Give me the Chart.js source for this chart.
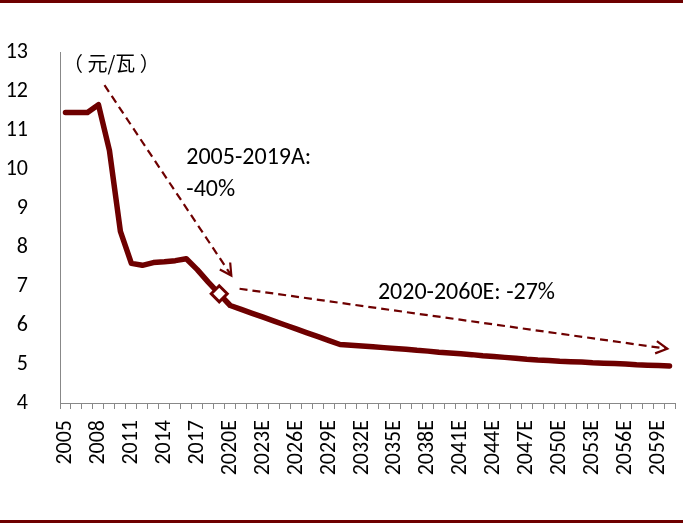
<!DOCTYPE html>
<html>
<head>
<meta charset="utf-8">
<script src="https://cdn.jsdelivr.net/npm/chart.js@4"></script>
<style>
  html, body { margin: 0; padding: 0; background: #fff; }
</style>
</head>
<body>
<canvas id="priceChart" width="683" height="523"></canvas>
<script>
// ---------------- DATA ----------------
const YEARS = [
  '2005', '2006', '2007', '2008', '2009', '2010', '2011', '2012', '2013', '2014',
  '2015', '2016', '2017', '2018', '2019',
  '2020E', '2021E', '2022E', '2023E', '2024E', '2025E', '2026E', '2027E', '2028E', '2029E',
  '2030E', '2031E', '2032E', '2033E', '2034E', '2035E', '2036E', '2037E', '2038E', '2039E',
  '2040E', '2041E', '2042E', '2043E', '2044E', '2045E', '2046E', '2047E', '2048E', '2049E',
  '2050E', '2051E', '2052E', '2053E', '2054E', '2055E', '2056E', '2057E', '2058E', '2059E',
  '2060E'
];

// 元/瓦
const PRICE = [
  11.45, 11.45, 11.45, 11.65, 10.48, 8.40, 7.58, 7.53, 7.60, 7.62,
  7.65, 7.70, 7.42, 7.10, 6.80,
  6.50, 6.40, 6.30, 6.20, 6.10, 6.00, 5.90, 5.80, 5.70, 5.60,
  5.50, 5.48, 5.46, 5.44, 5.42, 5.40, 5.38, 5.35, 5.33, 5.30,
  5.28, 5.26, 5.24, 5.21, 5.19, 5.17, 5.15, 5.12, 5.10, 5.09,
  5.07, 5.06, 5.05, 5.03, 5.02, 5.01, 5.00, 4.98, 4.97, 4.96,
  4.95
];

const Y_MIN = 4;
const Y_MAX = 13;
const MARKED_YEAR = '2019';
const UNIT_LABEL = '（ 元/瓦 ）';

// dashed trend arrows, [category index, value]
const ARROW_FROM = [[3.55, 12.15], [15.85, 6.93]];
const ARROW_TO   = [[15.1, 7.27],  [54.8, 5.39]];

// annotation texts, anchored at [category index, value]
const NOTE_TEXT = ['2005-2019A:', '-40%', '2020-2060E: -27%'];
const NOTE_AT   = [[11.0, 10.27], [11.0, 9.45], [28.45, 6.83]];

// ---------------- STYLE ----------------
const DARK = '#6e0000';
const AXIS = '#888888';
const FONT = 'Carlito, Lato, sans-serif';

Chart.defaults.font.family = FONT;
Chart.defaults.font.size = 22;
Chart.defaults.color = '#000';

const markIndex = YEARS.indexOf(MARKED_YEAR);

// bandas superior/inferior, flechas y textos
const decor = {
  id: 'decor',
  beforeDraw(chart) {
    const { ctx, width, height } = chart;
    ctx.save();
    ctx.fillStyle = '#fff';
    ctx.fillRect(0, 0, width, height);
    ctx.fillStyle = DARK;
    ctx.fillRect(0, 0, width, 3);
    ctx.fillRect(0, height - 3, width, 3);
    ctx.restore();
  },
  afterDatasetsDraw(chart) {
    const { ctx, chartArea, scales: { x, y } } = chart;
    ctx.save();
    ctx.strokeStyle = DARK;
    ctx.lineWidth = 2.2;

    ARROW_FROM.forEach((from, i) => {
      const to = ARROW_TO[i];
      const x0 = x.getPixelForValue(from[0]), y0 = y.getPixelForValue(from[1]);
      const x1 = x.getPixelForValue(to[0]),   y1 = y.getPixelForValue(to[1]);
      ctx.setLineDash([8, 5]);
      ctx.beginPath();
      ctx.moveTo(x0, y0);
      ctx.lineTo(x1, y1);
      ctx.stroke();

      const ang = Math.atan2(y1 - y0, x1 - x0);
      const len = 13, spread = 0.5;
      ctx.setLineDash([]);
      ctx.beginPath();
      ctx.moveTo(x1 - len * Math.cos(ang - spread), y1 - len * Math.sin(ang - spread));
      ctx.lineTo(x1, y1);
      ctx.lineTo(x1 - len * Math.cos(ang + spread), y1 - len * Math.sin(ang + spread));
      ctx.stroke();
    });

    ctx.fillStyle = '#000';
    ctx.textAlign = 'left';
    ctx.textBaseline = 'middle';
    ctx.font = '24px ' + FONT;
    NOTE_TEXT.forEach((txt, i) => {
      ctx.fillText(txt, x.getPixelForValue(NOTE_AT[i][0]), y.getPixelForValue(NOTE_AT[i][1]));
    });

    ctx.font = '20px "Noto Sans CJK SC"';
    ctx.fillText(UNIT_LABEL, chartArea.left + 3, chartArea.top + 11);
    ctx.restore();
  }
};

new Chart(document.getElementById('priceChart').getContext('2d'), {
  type: 'line',
  data: {
    labels: YEARS,
    datasets: [{
      label: '价格',
      data: PRICE,
      borderColor: DARK,
      borderWidth: 5.5,
      borderJoinStyle: 'round',
      borderCapStyle: 'round',
      tension: 0,
      fill: false,
      pointStyle: 'rectRot',
      pointRadius: ctx => ctx.dataIndex === markIndex ? 8 : 0,
      pointHoverRadius: 0,
      pointBackgroundColor: '#fff',
      pointBorderColor: DARK,
      pointBorderWidth: 3
    }]
  },
  options: {
    responsive: false,
    animation: false,
    devicePixelRatio: 1,
    layout: { padding: { top: 52, right: 8, left: 0, bottom: 0 } },
    plugins: {
      legend: { display: false },
      tooltip: { enabled: false }
    },
    scales: {
      x: {
        type: 'category',
        offset: true,
        grid: {
          offset: true,
          drawOnChartArea: false,
          drawTicks: true,
          tickLength: 6,
          color: AXIS
        },
        border: { display: true, color: AXIS, width: 1 },
        ticks: {
          autoSkip: false,
          minRotation: 90,
          maxRotation: 90,
          padding: 11,
          color: '#000',
          font: { size: 22 },
          callback(value, index) {
            return index % 3 === 0 ? this.getLabelForValue(value) : '';
          }
        },
        afterFit(scale) {
          scale.height = 120;
          scale.paddingLeft = 0;
          scale.paddingRight = 0;
        }
      },
      y: {
        min: Y_MIN,
        max: Y_MAX,
        grid: { display: false },
        border: { display: true, color: AXIS, width: 1 },
        ticks: {
          stepSize: 1,
          padding: 24,
          color: '#000',
          font: { size: 22 }
        },
        afterFit(scale) {
          scale.width = 60;
          scale.paddingTop = 0;
          scale.paddingBottom = 0;
        }
      }
    }
  },
  plugins: [decor]
});
</script>
</body>
</html>
